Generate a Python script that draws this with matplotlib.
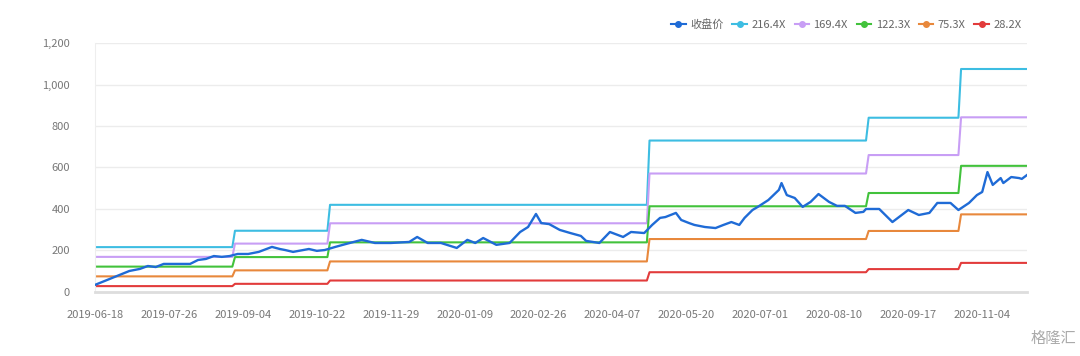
import numpy as np
import matplotlib
matplotlib.use("Agg")
import matplotlib.pyplot as plt

plt.rcParams['font.family'] = ['Noto Sans CJK SC', 'DejaVu Sans']

# x axis is a category axis of trading days (index 0..353)
n_days = 354
tick_every = 28
tick_labels = ["2019-06-18", "2019-07-26", "2019-09-04", "2019-10-22", "2019-11-29",
               "2020-01-09", "2020-02-26", "2020-04-07", "2020-05-20", "2020-07-01",
               "2020-08-10", "2020-09-17", "2020-11-04"]

# closing price (trading-day index, value)
price_idx = [0, 13, 17, 20, 23, 26, 31, 36, 39, 42, 45, 48, 51, 54, 58, 62, 67, 70,
             72, 75, 81, 84, 87, 91, 95, 101, 106, 112, 119, 122, 126, 131, 137, 141,
             144, 147, 152, 157, 161, 164, 167, 169, 172, 176, 180, 184, 186, 191, 195,
             200, 203, 208, 211, 214, 216, 220, 222, 225, 227, 231, 235, 238, 241, 244,
             246, 249, 251, 255, 259, 260, 262, 265, 268, 271, 274, 278, 281, 284, 288,
             291, 292, 297, 302, 308, 312, 316, 319, 324, 327, 331, 334, 336, 338, 340,
             343, 344, 347, 350, 351, 353]
price_val = [34, 101, 111, 125, 120, 135, 135, 135, 154, 159, 173, 169, 173, 183, 183,
             193, 217, 207, 202, 193, 207, 198, 202, 217, 231, 251, 236, 236, 241, 265,
             236, 236, 212, 251, 236, 260, 227, 236, 289, 313, 376, 332, 327, 299, 284,
             270, 246, 236, 289, 265, 289, 284, 323, 357, 361, 381, 347, 332, 323, 313,
             308, 323, 337, 323, 357, 395, 410, 443, 492, 525, 467, 453, 410, 434, 472,
             434, 415, 415, 381, 386, 400, 400, 337, 395, 371, 381, 429, 429, 395, 429,
             467, 482, 578, 516, 549, 525, 554, 549, 545, 564]

# PE band levels, one value per segment
seg_start = [0, 53, 89, 210, 293, 328]
bands = ["216.4X", "169.4X", "122.3X", "75.3X", "28.2X"]
band_216 = [216, 295, 420, 730, 840, 1075]
band_169 = [169, 233, 331, 571, 660, 842]
band_122 = [122, 168, 239, 413, 477, 608]
band_75 = [75, 104, 147, 255, 294, 374]
band_28 = [28, 39, 55, 95, 110, 140]

colors = {"收盘价": "#1f6bd6", "216.4X": "#3dbde2", "169.4X": "#c89ef5",
          "122.3X": "#42c23c", "75.3X": "#e8883c", "28.2X": "#e23b3b"}


def expand(levels):
    out = np.empty(n_days)
    bounds = seg_start + [n_days]
    for i, v in enumerate(levels):
        out[bounds[i]:bounds[i + 1]] = v
    return out


fig = plt.figure(figsize=(10.8, 3.56), dpi=100)
ax = fig.add_axes([0.088, 0.180, 0.863, 0.699])

x = np.arange(n_days)
ax.plot(price_idx, price_val, color=colors["收盘价"], lw=1.7, zorder=5)
for name, lv in zip(bands, [band_216, band_169, band_122, band_75, band_28]):
    ax.plot(x, expand(lv), color=colors[name], lw=1.5)

ax.set_xlim(0, n_days - 1)
ax.set_ylim(0, 1200)
ax.set_yticks(range(0, 1201, 200))
ax.set_yticklabels(["{:,}".format(v) for v in range(0, 1201, 200)])
ax.set_xticks(range(0, tick_every * len(tick_labels), tick_every))
ax.set_xticklabels(tick_labels)
ax.tick_params(axis="both", length=0, labelsize=8, colors="#777777")
ax.tick_params(axis="x", pad=13)
ax.tick_params(axis="y", pad=18)
ax.grid(axis="y", color="#ececec", lw=1)
for s in ["top", "right"]:
    ax.spines[s].set_visible(False)
ax.spines["left"].set_color("#eeeeee")
ax.spines["bottom"].set_color("#dddddd")
ax.spines["bottom"].set_linewidth(2)

# legend handles: short line with a dot in the middle
names = ["收盘价"] + bands
leg_handles = [plt.Line2D([0], [0], color=colors[n], lw=1.5, marker="o",
                          markersize=4) for n in names]
fig.legend(leg_handles, names, loc="center right",
           bbox_to_anchor=(0.955, 0.93), ncol=6, frameon=False, fontsize=8,
           handlelength=1.3, handletextpad=0.4, columnspacing=0.8,
           labelcolor="#666666")

fig.text(0.997, 0.025, "格隆汇", ha="right", va="bottom", fontsize=11,
         color="#aaaaaa")

fig.savefig("out.png", dpi=100, facecolor="white")
